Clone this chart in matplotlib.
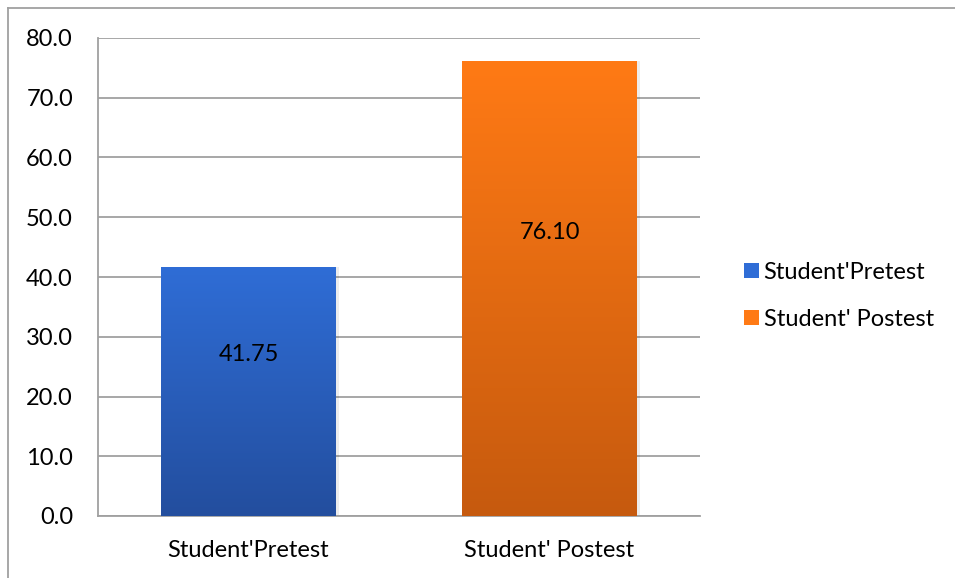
import numpy as np
import matplotlib
matplotlib.use("Agg")
import matplotlib.pyplot as plt
from matplotlib.colors import LinearSegmentedColormap
from matplotlib.patches import Patch

categories = ["Student'Pretest", "Student' Postest"]
values = [41.75, 76.10]
value_labels = ["41.75", "76.10"]
yticks = [0, 10, 20, 30, 40, 50, 60, 70, 80]

# top / bottom gradient colours for each bar
grad = [("#2F6DD6", "#234E9E"), ("#FF7A15", "#C65A0E")]

plt.rcParams['font.family'] = ['Lato', 'DejaVu Sans']

fig = plt.figure(figsize=(9.55, 5.78), dpi=100)
ax = fig.add_axes([98/955, 62/578, 602/955, 478/578])

x = np.arange(len(categories))
bars = ax.bar(x, values, width=0.58, color='none', edgecolor='none', zorder=3)

for b, (top, bot) in zip(bars, grad):
    x0, w, h = b.get_x(), b.get_width(), b.get_height()
    # soft shadow
    ax.bar(x0 + w/2 + 0.006, h + 0.2, width=w + 0.008, bottom=-0.2,
           color='#000000', alpha=0.07, zorder=2, edgecolor='none')
    cmap = LinearSegmentedColormap.from_list('g', [bot, top])
    im = ax.imshow(np.linspace(0, 1, 256).reshape(-1, 1), cmap=cmap, origin='lower',
                   extent=[x0, x0 + w, 0, h], aspect='auto', zorder=3)
    im.set_clip_path(b)

label_y = [27.0, 47.5]
for i, t in enumerate(value_labels):
    ax.text(x[i], label_y[i], t, ha='center', va='center', fontsize=17, color='black', zorder=5)

ax.set_xlim(-0.5, 1.5)
ax.set_ylim(0, 80)
ax.set_yticks(yticks)
ax.set_yticklabels([f"{v:.1f}" for v in yticks], fontsize=17)
ax.set_xticks(x)
ax.set_xticklabels(categories, fontsize=17)
ax.tick_params(axis='x', length=0, pad=17)
ax.tick_params(axis='y', length=0, pad=18)
ax.yaxis.grid(True, color='#A0A0A0', linewidth=1.3, zorder=0)
ax.set_axisbelow(True)
for s in ['top', 'right']:
    ax.spines[s].set_visible(False)
ax.spines['left'].set_color('#A0A0A0')
ax.spines['left'].set_linewidth(1.3)
ax.spines['bottom'].set_color('#A0A0A0')
ax.spines['bottom'].set_linewidth(1.3)

handles = [Patch(facecolor=grad[i][0], edgecolor='none') for i in range(2)]
fig.legend(handles, categories, loc='center left', bbox_to_anchor=(723/955, 1 - 296/578),
           frameon=False, fontsize=17, handlelength=0.62, handleheight=0.62,
           handletextpad=0.2, labelspacing=1.1)

# outer border (only top and left visible in the crop)
fig.add_artist(plt.Line2D([8/955, 1], [1 - 8/578, 1 - 8/578], color='#A0A0A0', lw=1.3))
fig.add_artist(plt.Line2D([8/955, 8/955], [0, 1 - 8/578], color='#A0A0A0', lw=1.3))

fig.savefig('out.png', dpi=100)
